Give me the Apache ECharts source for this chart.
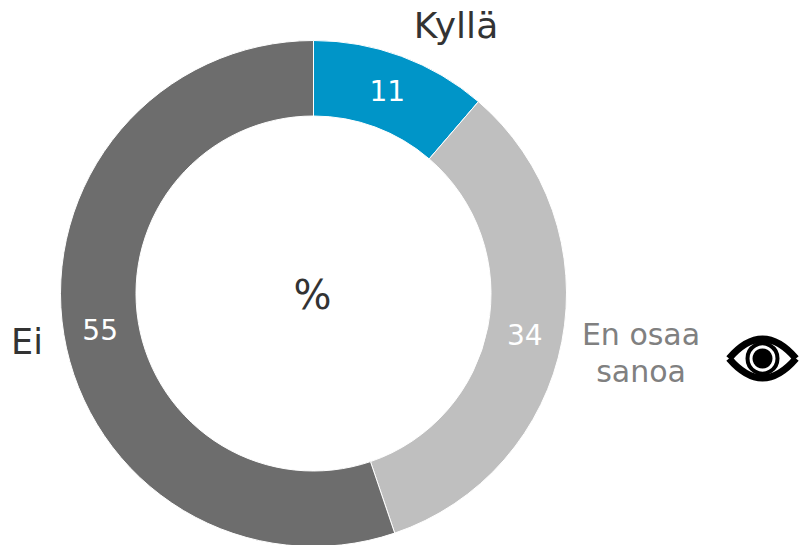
<!DOCTYPE html>
<html><head><meta charset="utf-8">
<style>html,body{margin:0;padding:0;background:#fff}#c{width:799px;height:545px}</style>
<script src="https://cdn.jsdelivr.net/npm/echarts@6/dist/echarts.min.js"></script>
</head><body><div id="c"></div>
<script>
const categories=["Kyllä","En osaa\nsanoa","Ei"];
const values=[11.3,33.5,55.2];
const colors=["#0095c8","#bfbfbf","#6d6d6d"];
const chart=echarts.init(document.getElementById('c'),null,{renderer:'svg'});
const font='"DejaVu Sans"';
const labelNudge=[[-2,3],[-3,0],[2,2]];
chart.setOption({
  animation:false,
  series:[
    {type:'pie',center:[313.5,293.5],radius:[177.5,253],startAngle:90,clockwise:true,silent:true,
     label:{show:true,position:'inside',formatter:p=>String(Math.round(p.value)),color:'#fff',fontFamily:font,fontSize:28},
     labelLine:{show:false},
     itemStyle:{borderColor:'#fff',borderWidth:1},
     data:categories.map((n,i)=>({name:n,value:values[i],itemStyle:{color:colors[i]},label:{offset:labelNudge[i]}}))}
  ],
  graphic:[
    {type:'text',x:456,y:25,style:{text:categories[0],font:'36px "DejaVu Sans"',fill:'#333',align:'center',verticalAlign:'middle'}},
    {type:'text',x:641,y:353,style:{text:categories[1],font:'30px "DejaVu Sans"',fill:'#808080',align:'center',verticalAlign:'middle',lineHeight:37}},
    {type:'text',x:27,y:342,style:{text:categories[2],font:'35px "DejaVu Sans"',fill:'#333',align:'center',verticalAlign:'middle'}},
    {type:'text',x:312.5,y:295,style:{text:'%',font:'40px "DejaVu Sans"',fill:'#333',align:'center',verticalAlign:'middle'}},
    {type:'bezierCurve',shape:{x1:729,y1:358.5,x2:796,y2:358.5,cpx1:762.5,cpy1:319.5},style:{stroke:'#000',lineWidth:7,fill:null}},
    {type:'bezierCurve',shape:{x1:729,y1:358.5,x2:796,y2:358.5,cpx1:762.5,cpy1:397.5},style:{stroke:'#000',lineWidth:7,fill:null}},
    {type:'circle',shape:{cx:762.5,cy:358.5,r:15},style:{stroke:'#000',lineWidth:4,fill:'#fff'}},
    {type:'circle',shape:{cx:762.5,cy:358.5,r:10},style:{fill:'#000'}}
  ]
});
</script></body></html>
